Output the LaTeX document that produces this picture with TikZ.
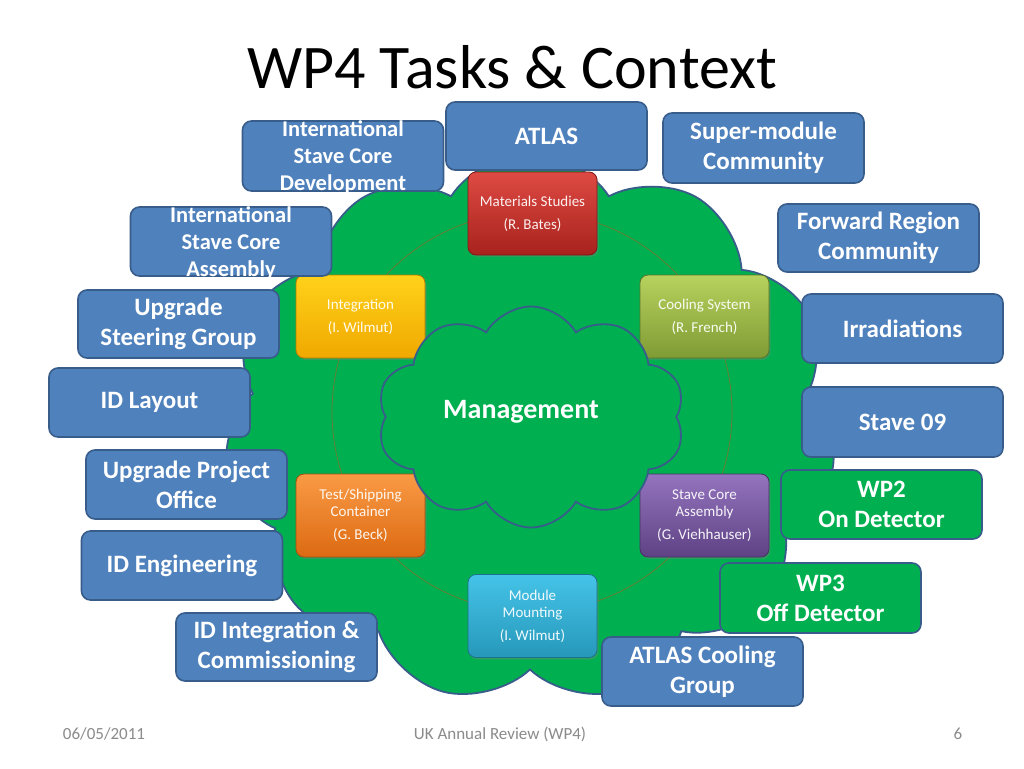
\documentclass[tikz,border=0pt]{standalone}
\usepackage{fontspec}
\setmainfont{Carlito}
\usetikzlibrary{shapes.symbols,shadows}
\definecolor{grpblue}{HTML}{4F81BD}
\definecolor{grpedge}{HTML}{385D8A}
\definecolor{wpgreen}{HTML}{00B050}
\definecolor{ringc}{HTML}{8A6A2A}
\definecolor{footgray}{HTML}{8B8B8B}
\definecolor{mattop}{HTML}{DE4A43}\definecolor{matbot}{HTML}{A8221D}
\definecolor{integtop}{HTML}{FFD21A}\definecolor{integbot}{HTML}{F0A800}
\definecolor{cooltop}{HTML}{B8D25E}\definecolor{coolbot}{HTML}{7F9B34}
\definecolor{testtop}{HTML}{FA9A45}\definecolor{testbot}{HTML}{DC6A12}
\definecolor{scatop}{HTML}{9474BE}\definecolor{scabot}{HTML}{5E4284}
\definecolor{modtop}{HTML}{45C3E8}\definecolor{modbot}{HTML}{2698BA}
\begin{document}
\begin{tikzpicture}[
  x=1pt, y=-1pt,
  grp/.style={draw=grpedge, line width=1.6pt, fill=grpblue, rounded corners=9pt,
    minimum width=201pt, minimum height=69pt, inner sep=0pt, text=white,
    font=\fontsize{25}{30}\selectfont\bfseries, align=center},
  wp/.style={grp, fill=wpgreen},
  grptxt/.style={text=white, font=\fontsize{22.5}{27}\selectfont\bfseries,
    align=center, inner sep=0pt},
  task/.style={rounded corners=8pt, minimum width=129pt, minimum height=83pt,
    inner sep=0pt, align=center, text=white!92!#1top, font=\fontsize{15}{17}\selectfont,
    draw=#1bot!75!black, line width=0.8pt, top color=#1top, bottom color=#1bot,
    drop shadow={opacity=0.35, shadow xshift=1.5pt, shadow yshift=-2pt}},
  cloudy/.style={cloud, draw=grpedge, line width=1.8pt, fill=wpgreen, inner sep=0pt},
  foot/.style={text=footgray, font=\fontsize{17}{20}\selectfont, anchor=base}
]
\useasboundingbox [fill=white] (0,0) rectangle (1024,768);

\node [anchor=base, font=\fontsize{62}{70}\selectfont] (title) at (512,88) {WP4 Tasks \& Context};

% the big cloud and the ring of tasks
\node [cloudy, cloud puffs=11, cloud puff arc=115, minimum width=612pt,
  minimum height=550pt] (wp4) at (530,428) {};
\coordinate (hub) at (532,412);
\draw [ringc, line width=0.7pt, opacity=0.8] (hub) circle [radius=200];

\node [task=mat]   (mat)   at (532.5,213.5) {Materials Studies\\[6pt](R. Bates)};
\node [task=integ] (integ) at (360.5,316.5) {Integration\\[6pt](I. Wilmut)};
\node [task=cool]  (cool)  at (704.5,316.5) {Cooling System\\[6pt](R. French)};
\node [task=test]  (test)  at (360.5,515.5) {Test/Shipping\\Container\\[6pt](G. Beck)};
\node [task=sca]   (sca)   at (704.5,515.5) {Stave Core\\Assembly\\[6pt](G. Viehhauser)};
\node [task=mod]   (mod)   at (532.5,616)   {Module\\Mounting\\[6pt](I. Wilmut)};

\node [cloudy, cloud puffs=10, cloud puff arc=120, minimum width=308pt,
  minimum height=221pt] (mgmt) at (531,417) {};
\node [text=white, font=\fontsize{28}{30}\selectfont\bfseries] (mgtxt) at (521,412) {Management};

% groups round the outside
\node [grp, minimum height=70pt] (iscd) at (343,156) {};
\node [grptxt] (iscdtxt) at (343,157) {International\\Stave Core\\Development};
\node [grp, minimum height=68pt] (atlas) at (546.5,136) {ATLAS};
\node [grp, minimum height=70pt] (smc) at (763.5,148) {Super-module\\Community};
\node [grp] (isca) at (231,241.5) {};
\node [grptxt] (iscatxt) at (231,243) {International\\Stave Core\\Assembly};
\node [grp, minimum height=68pt] (frc) at (878.5,238) {Forward Region\\Community};
\node [grp, minimum height=68pt] (usg) at (178.5,324) {Upgrade\\Steering Group};
\node [grp] (irr) at (902.5,328.5) {Irradiations};
\node [grp] (idl) at (149.5,402.5) {ID Layout};
\node [grp, minimum height=70pt] (st09) at (902.5,422) {Stave 09};
\node [grp] (upo) at (186.5,484.5) {Upgrade Project\\Office};
\node [wp] (wp2) at (881.5,504.5) {WP2\\On Detector};
\node [grp] (ide) at (182,565.5) {ID Engineering};
\node [wp, minimum height=70pt] (wp3) at (820.5,598) {WP3\\Off Detector};
\node [grp, minimum height=68pt] (idic) at (276.5,647) {ID Integration \&\\Commissioning};
\node [grp] (acg) at (702.5,671.5) {ATLAS Cooling\\Group};

\node [foot] (date) at (104,739) {06/05/2011};
\node [foot] (conf) at (500,739) {UK Annual Review (WP4)};
\node [foot] (page) at (958,739) {6};
\end{tikzpicture}
\end{document}
